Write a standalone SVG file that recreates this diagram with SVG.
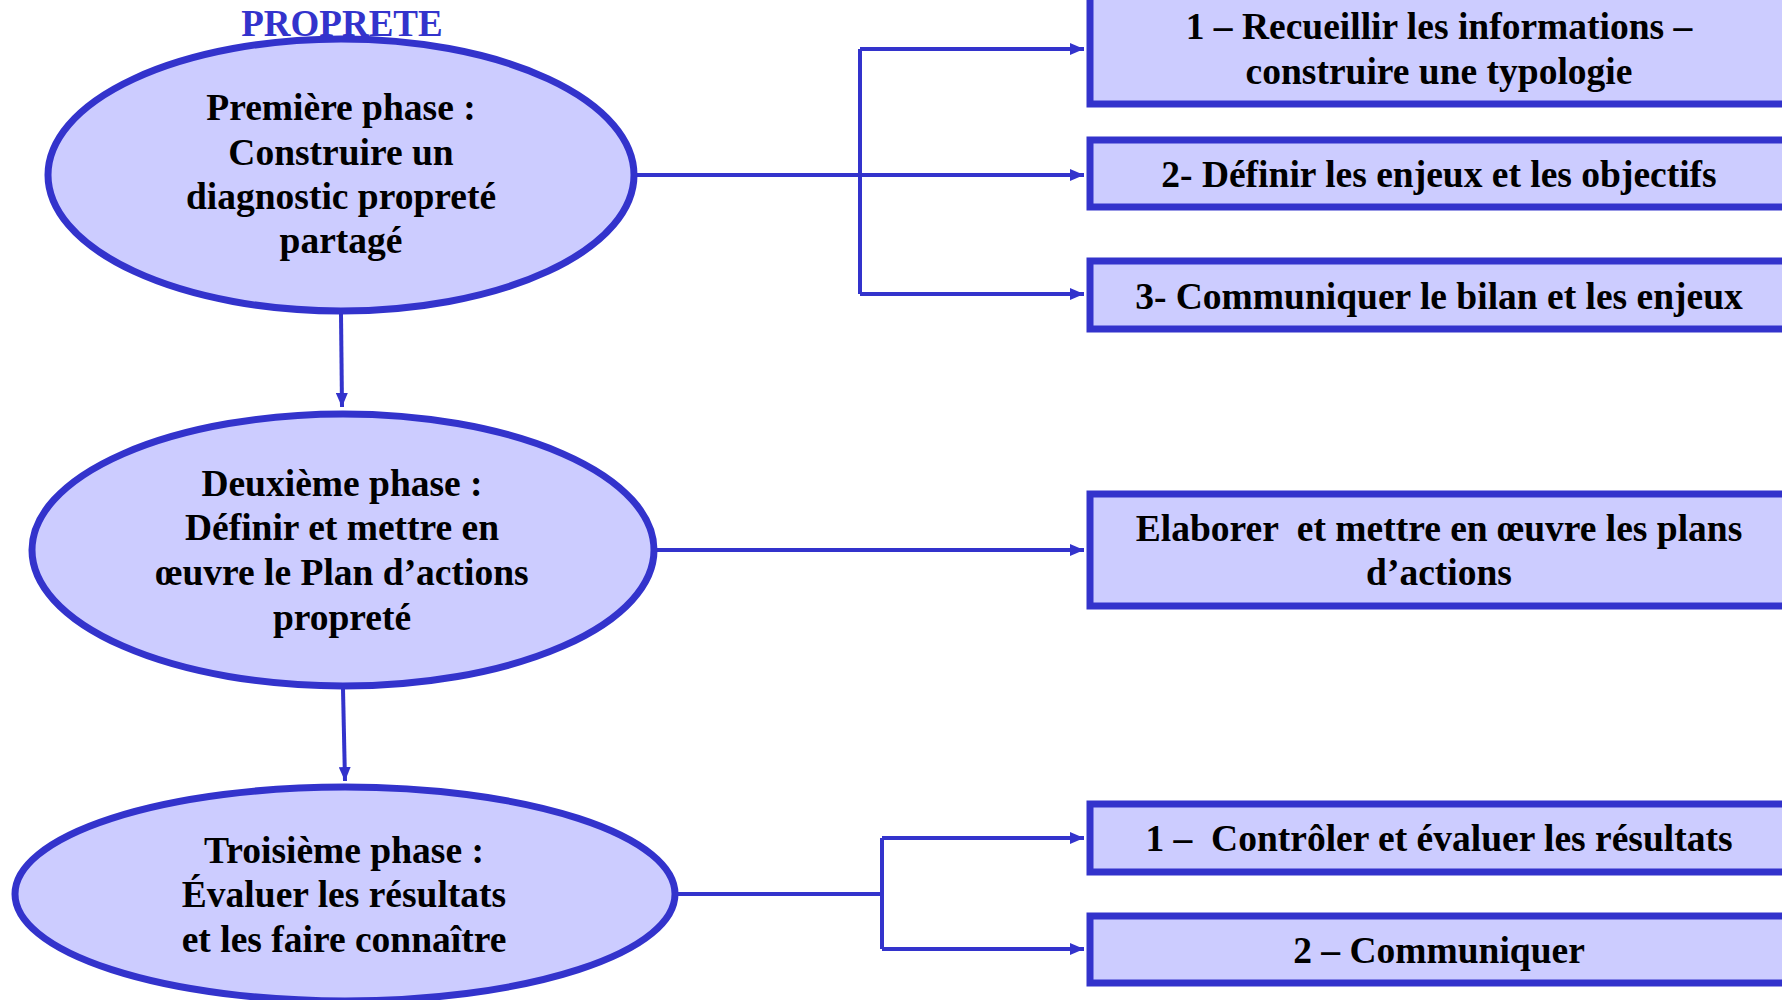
<svg xmlns="http://www.w3.org/2000/svg" width="1782" height="1000" viewBox="0 0 1782 1000">
<style>
.node{fill:#ccccff;stroke:#3333cc;stroke-width:7}
.t{font-family:"Liberation Serif","Times New Roman",serif;font-weight:bold;font-size:37.5px;fill:#000;text-anchor:middle}
.title{font-family:"Liberation Serif","Times New Roman",serif;font-weight:bold;font-size:37px;fill:#3333cc;text-anchor:middle}
.c{fill:none;stroke:#3333cc;stroke-width:4}
</style>
<defs>
<marker id="arr" viewBox="0 0 14 12" refX="14" refY="6" markerWidth="14" markerHeight="12" markerUnits="userSpaceOnUse" orient="auto">
<path d="M0,0 L14,6 L0,12 z" fill="#3333cc"/>
</marker>
</defs>
<rect width="1782" height="1000" fill="#ffffff"/>
<text class="title" x="342" y="36">PROPRETE</text>
<g id="connectors">
<path class="c" d="M636,175 H1084" marker-end="url(#arr)"/>
<path class="c" d="M860,49 V294"/>
<path class="c" d="M860,49 H1084" marker-end="url(#arr)"/>
<path class="c" d="M860,294 H1084" marker-end="url(#arr)"/>
<path class="c" d="M341,314 L342,407" marker-end="url(#arr)"/>
<path class="c" d="M656,550 H1084" marker-end="url(#arr)"/>
<path class="c" d="M343,689 L345,781" marker-end="url(#arr)"/>
<path class="c" d="M677,894 H882"/>
<path class="c" d="M882,838 V949"/>
<path class="c" d="M882,838 H1084" marker-end="url(#arr)"/>
<path class="c" d="M882,949 H1084" marker-end="url(#arr)"/>
</g>
<g id="phase1">
<ellipse class="node" cx="341" cy="175" rx="293" ry="136"/>
<text class="t" x="341" y="120">Première phase :</text>
<text class="t" x="341" y="165">Construire un</text>
<text class="t" x="341" y="209">diagnostic propreté</text>
<text class="t" x="341" y="253">partagé</text>
</g>
<g id="phase2">
<ellipse class="node" cx="343" cy="550" rx="311" ry="136"/>
<text class="t" x="342" y="496">Deuxième phase :</text>
<text class="t" x="342" y="540">Définir et mettre en</text>
<text class="t" x="342" y="585">œuvre le Plan d’actions</text>
<text class="t" x="342" y="630">propreté</text>
</g>
<g id="phase3">
<ellipse class="node" cx="345" cy="894" rx="330" ry="107"/>
<text class="t" x="344" y="863">Troisième phase :</text>
<text class="t" x="344" y="907">Évaluer les résultats</text>
<text class="t" x="344" y="952">et les faire connaître</text>
</g>
<g id="box1">
<rect class="node" x="1090" y="-10" width="720" height="114"/>
<text class="t" x="1439" y="39">1 – Recueillir les informations –</text>
<text class="t" x="1439" y="84">construire une typologie</text>
</g>
<g id="box2">
<rect class="node" x="1090" y="140" width="720" height="67"/>
<text class="t" x="1439" y="187">2- Définir les enjeux et les objectifs</text>
</g>
<g id="box3">
<rect class="node" x="1090" y="261" width="720" height="68"/>
<text class="t" x="1439" y="309">3- Communiquer le bilan et les enjeux</text>
</g>
<g id="box4">
<rect class="node" x="1090" y="494" width="720" height="112"/>
<text class="t" x="1439" y="541" xml:space="preserve">Elaborer  et mettre en œuvre les plans</text>
<text class="t" x="1439" y="585">d’actions</text>
</g>
<g id="box5">
<rect class="node" x="1090" y="804" width="720" height="68"/>
<text class="t" x="1439" y="851" xml:space="preserve">1 –  Contrôler et évaluer les résultats</text>
</g>
<g id="box6">
<rect class="node" x="1090" y="916" width="720" height="67"/>
<text class="t" x="1439" y="963">2 – Communiquer</text>
</g>
</svg>
